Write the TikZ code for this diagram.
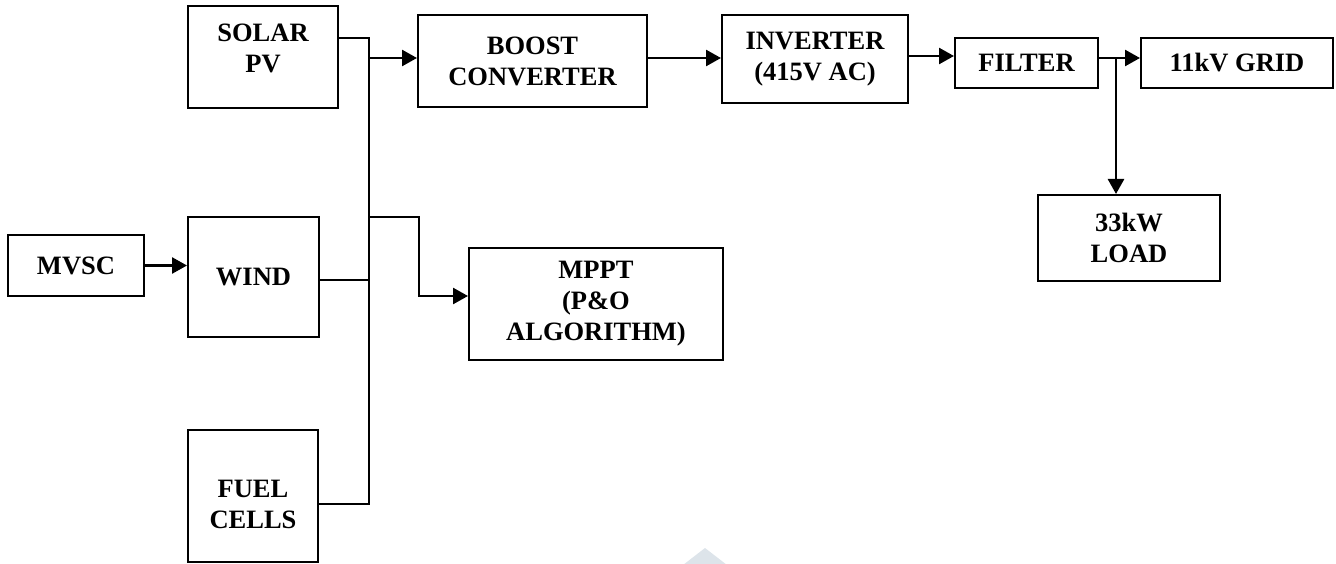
\documentclass[tikz,border=0pt]{standalone}
\usepackage{fontspec}
\setmainfont{Liberation Serif}
\usetikzlibrary{arrows.meta}
\definecolor{wmark}{HTML}{DDE4EA}
\tikzset{
  blk/.style={draw, line width=2pt, inner sep=0pt, align=center,
    font=\fontsize{26.5}{31}\selectfont\bfseries},
  lbl/.style={inner sep=0pt, align=center,
    font=\fontsize{26.5}{31}\selectfont\bfseries},
  wire/.style={line width=1.6pt},
  flow/.style={line width=2.6pt, -{Triangle[length=15pt,width=16pt]}},
}
\begin{document}
\begin{tikzpicture}[x=1pt,y=-1pt]
\useasboundingbox (0,0) rectangle (1336,564);
% faint mark at the lower edge
\fill[wmark] (683,565) -- (705,548) -- (727,565) -- cycle;

% sources
\node[blk, minimum width=150pt, minimum height=102pt] (solar) at (263,57) {};
\node[lbl] (solarT) at (263,48) {SOLAR\\PV};
\node[blk, minimum width=131pt, minimum height=120pt] (wind) at (253.5,277) {WIND};
\node[blk, minimum width=130pt, minimum height=132pt] (fuel) at (253,496) {};
\node[lbl] (fuelT) at (253,504) {FUEL\\CELLS};
\node[blk, minimum width=136pt, minimum height=61pt] (mvsc) at (76,265.5) {MVSC};

% conversion chain
\node[blk, minimum width=229pt, minimum height=92pt] (boost) at (532.5,61) {BOOST\\CONVERTER};
\node[blk, minimum width=186pt, minimum height=88pt] (inv) at (815,59) {INVERTER\\(415V AC)};
\node[blk, minimum width=143pt, minimum height=50pt] (filter) at (1026.5,63) {FILTER};
\node[blk, minimum width=192pt, minimum height=50pt] (grid) at (1237,63) {11kV GRID};
\node[blk, minimum width=182pt, minimum height=86pt] (load) at (1129,238) {33kW\\LOAD};
\node[blk, minimum width=254pt, minimum height=112pt] (mppt) at (596,304) {MPPT\\(P\&O\\ALGORITHM)};

% common DC bus
\coordinate (bt) at (369,38);
\coordinate (bw) at (369,280);
\coordinate (bf) at (369,504);
\coordinate (bb) at (369,58);
\coordinate (bm) at (369,217);
\coordinate (mk) at (419,217);
\coordinate (lj) at (1116,58);

\draw[wire] (solar.east |- bt) -- (bt) -- (bf) -- (fuel.east |- bf);
\draw[wire] (wind.east |- bw) -- (bw);
\draw[flow] (bb) -- (boost.west |- bb);
\draw[flow] (bm) -- (mk) |- ([yshift=8pt]mppt.west);
\draw[flow] (mvsc.east) -- (mvsc.east -| wind.west);

\draw[flow] ([yshift=3pt]boost.east) -- ([yshift=3pt]boost.east -| inv.west);
\draw[flow] ([yshift=3pt]inv.east) -- ([yshift=3pt]inv.east -| filter.west);
\draw[flow] ([yshift=5pt]filter.east) -- ([yshift=5pt]filter.east -| grid.west);
\draw[flow] (lj) -- (lj |- load.north);
\end{tikzpicture}
\end{document}
